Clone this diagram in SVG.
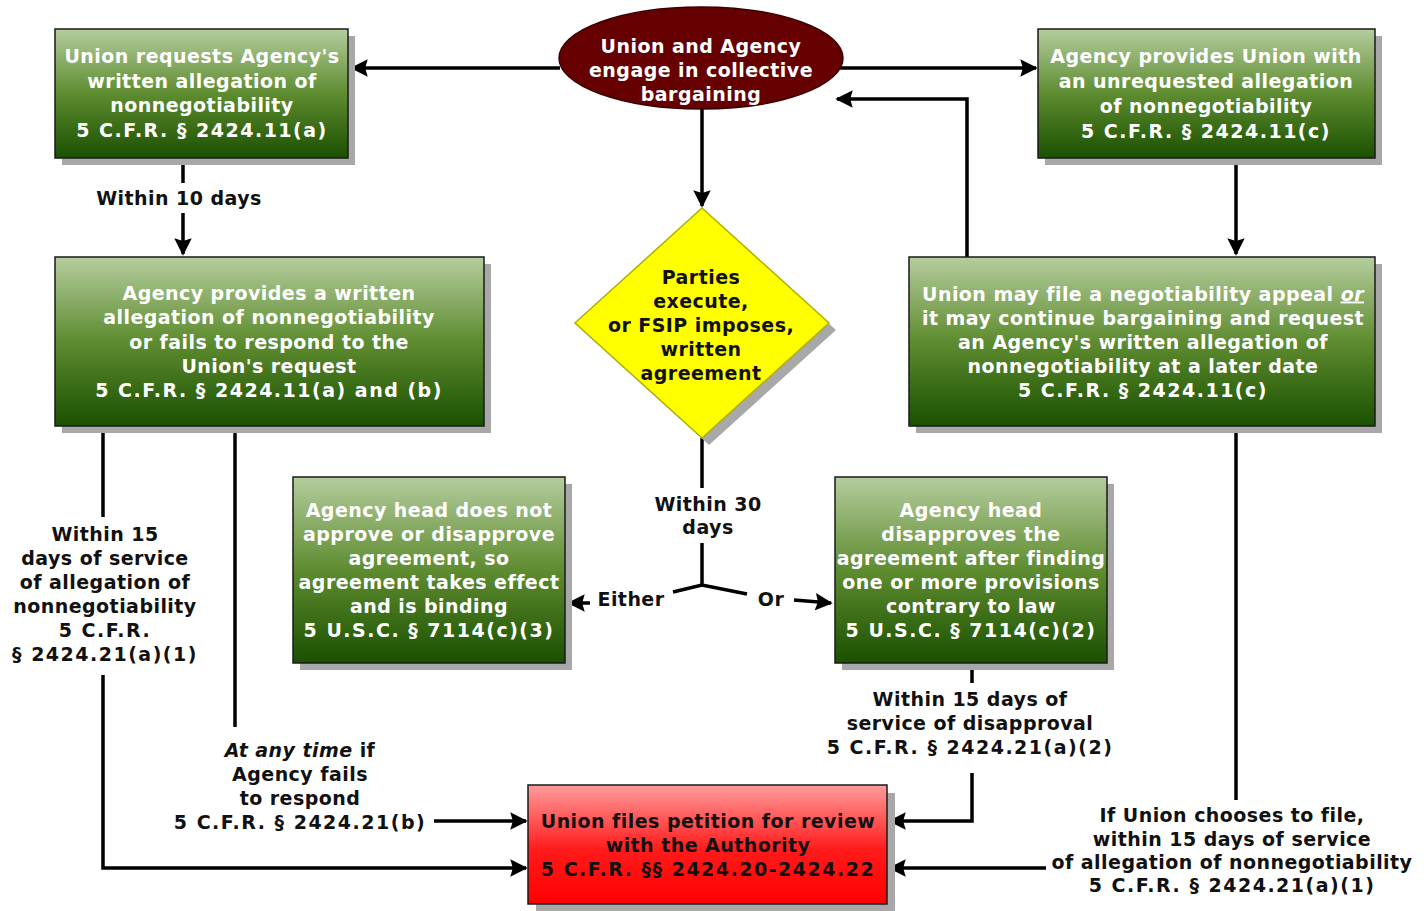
<svg xmlns="http://www.w3.org/2000/svg" width="1424" height="911" viewBox="0 0 1424 911">
<defs>
<linearGradient id="gGreen" x1="0" y1="0" x2="0" y2="1">
<stop offset="0" stop-color="#b5cd9e"/>
<stop offset="0.5" stop-color="#5e8c30"/>
<stop offset="1" stop-color="#1a5000"/>
</linearGradient>
<linearGradient id="gRed" x1="0" y1="0" x2="0" y2="1">
<stop offset="0" stop-color="#ff9c9c"/>
<stop offset="0.55" stop-color="#ff1a1a"/>
<stop offset="1" stop-color="#ff0000"/>
</linearGradient>
<marker id="arr" viewBox="0 0 10 10" refX="9" refY="5" markerWidth="5" markerHeight="5.4" orient="auto" markerUnits="strokeWidth">
<path d="M0,0 L10,5 L0,10 L1.5,5 Z" fill="#000"/>
</marker>
</defs>
<style>
text{font-family:"DejaVu Sans",Verdana,sans-serif;font-weight:bold;font-size:19px;letter-spacing:0.45px;text-anchor:middle}
.c{letter-spacing:1.5px}
.w{fill:#ffffff}
.k{fill:#111111}
.box{fill:url(#gGreen);stroke:#1a1a1a;stroke-width:1.5}
.sh{fill:#a8a8a8}
.ln{fill:none;stroke:#000;stroke-width:3.5}
.ar{marker-end:url(#arr)}
</style>
<rect width="1424" height="911" fill="#ffffff"/>

<g id="connectors">
<path class="ln ar" d="M560,68 H352"/>
<path class="ln ar" d="M840,68 H1036"/>
<path class="ln ar" d="M967,257 V99 H837"/>
<path class="ln ar" d="M702,108 V206"/>
<path class="ln" d="M183,159 V183"/>
<path class="ln ar" d="M183,213 V254"/>
<path class="ln ar" d="M1236,159 V254"/>
<path class="ln" d="M702,438 V488"/>
<path class="ln" d="M702,543 V585 M673,592 L702,585 L747,594"/>
<path class="ln ar" d="M590,603 H569"/>
<path class="ln ar" d="M794,600 L831,603"/>
<path class="ln" d="M103,426 V517"/>
<path class="ln ar" d="M103,675 V868 H526"/>
<path class="ln" d="M235,426 V727"/>
<path class="ln ar" d="M434,821 H526"/>
<path class="ln" d="M972,663 V683"/>
<path class="ln ar" d="M972,773 V821 H890"/>
<path class="ln" d="M1236,426 V800"/>
<path class="ln ar" d="M1046,868 H890"/>
</g>

<g id="n1">
<rect class="sh" x="62" y="36" width="293" height="129"/>
<rect class="box" x="55" y="29" width="293" height="129"/>
<text class="w"><tspan x="202" y="63">Union requests Agency's</tspan><tspan x="202" y="87.5">written allegation of</tspan><tspan x="202" y="112">nonnegotiability</tspan><tspan class="c" x="202" y="137">5 C.F.R. § 2424.11(a)</tspan></text>
</g>

<g id="n2">
<ellipse cx="701" cy="58" rx="142" ry="51" fill="#660000" stroke="#3a0000" stroke-width="1.5"/>
<text class="w"><tspan x="701" y="53">Union and Agency</tspan><tspan x="701" y="77">engage in collective</tspan><tspan x="701" y="101">bargaining</tspan></text>
</g>

<g id="n3">
<rect class="sh" x="1045" y="36" width="337" height="129"/>
<rect class="box" x="1038" y="29" width="337" height="129"/>
<text class="w"><tspan x="1206" y="63">Agency provides Union with</tspan><tspan x="1206" y="88">an unrequested allegation</tspan><tspan x="1206" y="113">of nonnegotiability</tspan><tspan class="c" x="1206" y="138">5 C.F.R. § 2424.11(c)</tspan></text>
</g>

<g id="n4">
<rect class="sh" x="62" y="264" width="429" height="169"/>
<rect class="box" x="55" y="257" width="429" height="169"/>
<text class="w"><tspan x="269" y="300">Agency provides a written</tspan><tspan x="269" y="324">allegation of nonnegotiability</tspan><tspan x="269" y="348.5">or fails to respond to the</tspan><tspan x="269" y="372.5">Union's request</tspan><tspan class="c" x="269" y="397">5 C.F.R. § 2424.11(a) and (b)</tspan></text>
</g>

<g id="n5">
<polygon points="709,215 836,330 709,445 582,330" fill="#a8a8a8"/>
<polygon points="702,208 829,323 702,438 575,323" fill="#ffff00" stroke="#b0b000" stroke-width="1.5"/>
<text class="k"><tspan x="701" y="284">Parties</tspan><tspan x="701" y="308">execute,</tspan><tspan x="701" y="332">or FSIP imposes,</tspan><tspan x="701" y="356">written</tspan><tspan x="701" y="380">agreement</tspan></text>
</g>

<g id="n6">
<rect class="sh" x="916" y="264" width="466" height="169"/>
<rect class="box" x="909" y="257" width="466" height="169"/>
<text class="w"><tspan x="1143" y="300.5">Union may file a negotiability appeal <tspan font-style="italic" text-decoration="underline">or</tspan></tspan><tspan x="1143" y="324.5">it may continue bargaining and request</tspan><tspan x="1143" y="348.5">an Agency's written allegation of</tspan><tspan x="1143" y="372.5">nonnegotiability at a later date</tspan><tspan class="c" x="1143" y="397">5 C.F.R. § 2424.11(c)</tspan></text>
</g>

<g id="n7">
<rect class="sh" x="300" y="484" width="272" height="186"/>
<rect class="box" x="293" y="477" width="272" height="186"/>
<text class="w"><tspan x="429" y="517">Agency head does not</tspan><tspan x="429" y="541">approve or disapprove</tspan><tspan x="429" y="565">agreement, so</tspan><tspan x="429" y="589">agreement takes effect</tspan><tspan x="429" y="613">and is binding</tspan><tspan class="c" x="429" y="637">5 U.S.C. § 7114(c)(3)</tspan></text>
</g>

<g id="n8">
<rect class="sh" x="842" y="484" width="272" height="186"/>
<rect class="box" x="835" y="477" width="272" height="186"/>
<text class="w"><tspan x="971" y="517">Agency head</tspan><tspan x="971" y="541">disapproves the</tspan><tspan x="971" y="565">agreement after finding</tspan><tspan x="971" y="589">one or more provisions</tspan><tspan x="971" y="613">contrary to law</tspan><tspan class="c" x="971" y="637">5 U.S.C. § 7114(c)(2)</tspan></text>
</g>

<g id="n9">
<rect class="sh" x="536" y="793" width="359" height="119"/>
<rect x="528" y="785" width="359" height="119" fill="url(#gRed)" stroke="#1a1a1a" stroke-width="1.5"/>
<text class="k"><tspan x="708" y="828">Union files petition for review</tspan><tspan x="708" y="852">with the Authority</tspan><tspan class="c" x="708" y="876">5 C.F.R. §§ 2424.20-2424.22</tspan></text>
</g>

<g id="labels">
<text class="k" x="179" y="205">Within 10 days</text>
<text class="k"><tspan x="708" y="511">Within 30</tspan><tspan x="708" y="534">days</tspan></text>
<text class="k" x="631" y="606">Either</text>
<text class="k" x="771" y="606">Or</text>
<text class="k"><tspan x="105" y="541">Within 15</tspan><tspan x="105" y="565">days of service</tspan><tspan x="105" y="589">of allegation of</tspan><tspan x="105" y="613">nonnegotiability</tspan><tspan class="c" x="105" y="637">5 C.F.R.</tspan><tspan class="c" x="105" y="661">§ 2424.21(a)(1)</tspan></text>
<text class="k"><tspan x="300" y="757"><tspan font-style="italic">At any time</tspan> if</tspan><tspan x="300" y="781">Agency fails</tspan><tspan x="300" y="805">to respond</tspan><tspan class="c" x="300" y="829">5 C.F.R. § 2424.21(b)</tspan></text>
<text class="k"><tspan x="970" y="706">Within 15 days of</tspan><tspan x="970" y="730">service of disapproval</tspan><tspan class="c" x="970" y="754">5 C.F.R. § 2424.21(a)(2)</tspan></text>
<text class="k"><tspan x="1232" y="822">If Union chooses to file,</tspan><tspan x="1232" y="845.5">within 15 days of service</tspan><tspan x="1232" y="869">of allegation of nonnegotiability</tspan><tspan class="c" x="1232" y="892">5 C.F.R. § 2424.21(a)(1)</tspan></text>
</g>
</svg>
